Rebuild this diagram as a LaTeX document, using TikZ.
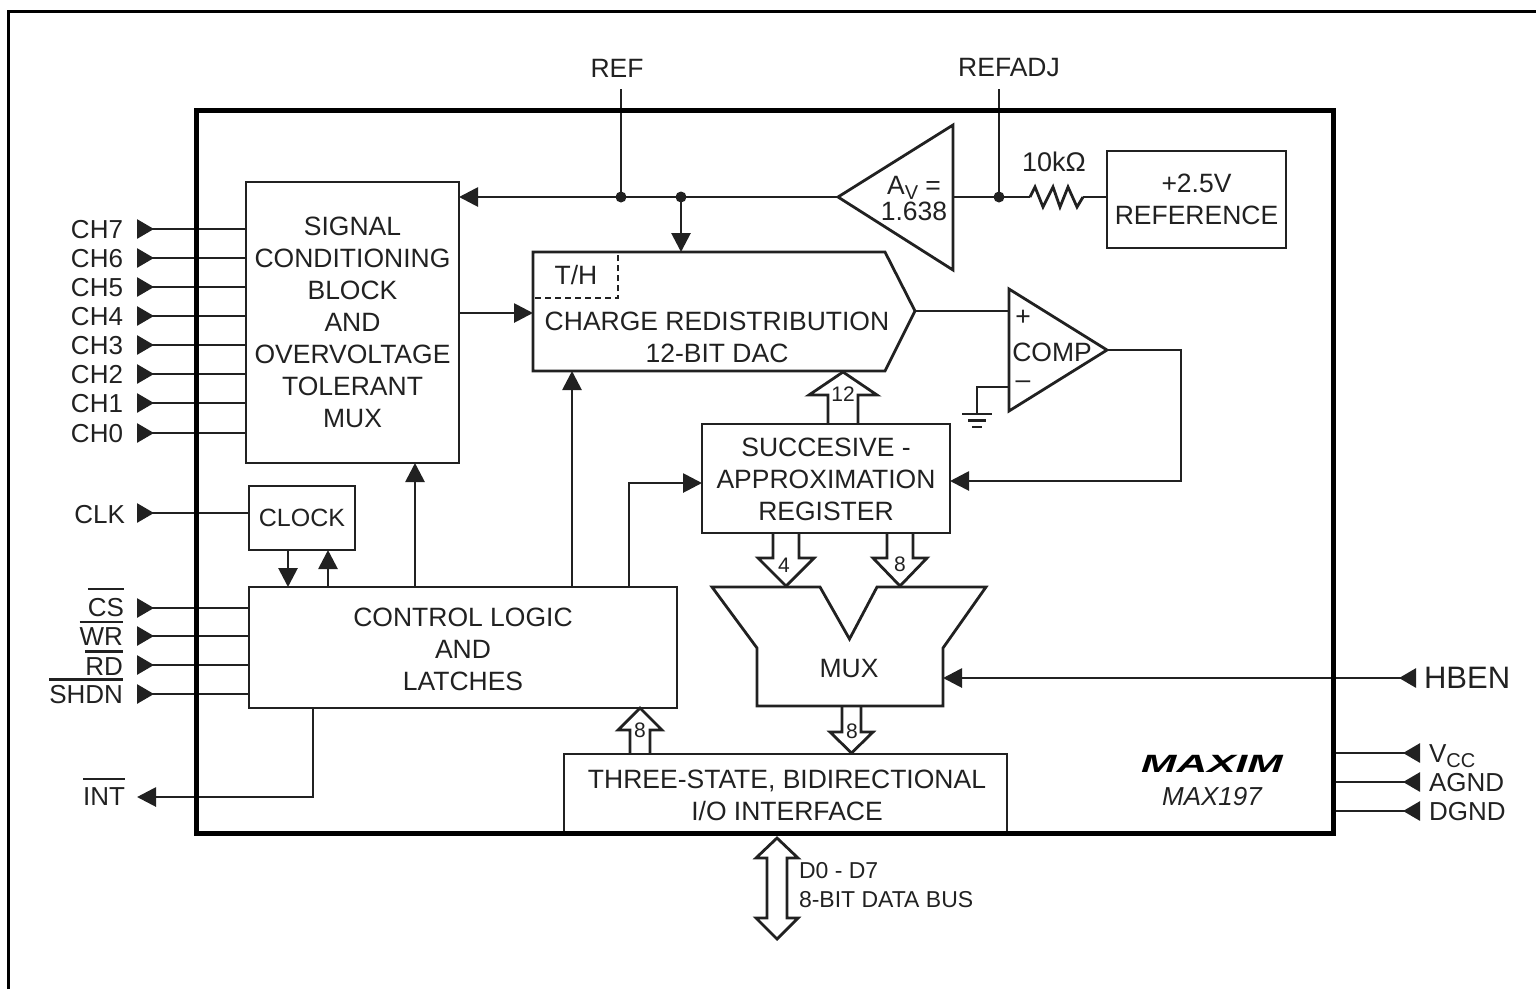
\documentclass[tikz,border=0pt]{standalone}
\usepackage{fontspec}
\setmainfont{Liberation Sans}
\usetikzlibrary{arrows.meta,calc}
\definecolor{inkdark}{gray}{0.13}
\newcommand{\barred}[2][5pt]{\leavevmode\vbox{\hrule height 2.5pt \kern #1 \hbox{#2}}}
\newcommand{\lowtext}[1]{\raisebox{-5pt}[0pt][0pt]{\fontsize{20}{20}\selectfont #1}}
\newcommand{\hollowbus}[5]{%
    \coordinate (headbase) at ($(#2)!#5pt!(#1)$);
    \draw[busline] ([xshift=-#3pt]#1) -- ([xshift=-#3pt]headbase) -- ([xshift=-#4pt]headbase)
        -- (#2) -- ([xshift=#4pt]headbase) -- ([xshift=#3pt]headbase) -- ([xshift=#3pt]#1);
}
\tikzset{
    wire/.style={line width=2.8pt, draw=inkdark},
    towire/.style={wire, -{Triangle[length=19pt,width=19pt]}},
    pinwire/.style={wire, {Triangle[reversed,length=17pt,width=19pt]}-},
    pintowire/.style={wire, {Triangle[reversed,length=17pt,width=19pt]}-{Triangle[length=19pt,width=19pt]}},
    busline/.style={line width=2.8pt, draw=inkdark, line join=miter},
    chipblock/.style={draw=inkdark, line width=2.8pt, inner sep=0pt, outer sep=0pt, align=center,
        text=inkdark, font=\fontsize{26.5}{32}\selectfont},
    plaintext/.style={inner sep=0pt, outer sep=0pt, align=center, text=inkdark,
        font=\fontsize{26.5}{32}\selectfont},
    pintext/.style={plaintext, anchor=base east, font=\fontsize{26}{32}\selectfont},
    rightpintext/.style={plaintext, anchor=base west, font=\fontsize{26}{32}\selectfont},
    busnumber/.style={plaintext, font=\fontsize{21}{24}\selectfont},
}
\begin{document}
\begin{tikzpicture}[x=1pt,y=-1pt]
    \useasboundingbox (0,0) rectangle (1536,989);
    \draw[line width=3pt] (8,989) -- (8,11) -- (1536,11);

    % blocks
    \node[chipblock, minimum width=213pt, minimum height=281pt] (sigblock) at (352.5,322.5)
        {SIGNAL\\CONDITIONING\\BLOCK\\AND\\OVERVOLTAGE\\TOLERANT\\MUX};
    \node[chipblock, minimum width=106pt, minimum height=64pt, font=\fontsize{25}{30}\selectfont] (clockblock) at (302,518) {CLOCK};
    \node[chipblock, minimum width=428pt, minimum height=121pt] (ctrlblock) at (463,647.5) {};
    \node[plaintext] (ctrllabel) at (463,649) {CONTROL LOGIC\\AND\\LATCHES};
    \node[chipblock, minimum width=248pt, minimum height=109pt] (sarblock) at (826,478.5) {};
    \node[plaintext] (sarlabel) at (826,479.5) {SUCCESIVE -\\APPROXIMATION\\REGISTER};
    \node[chipblock, minimum width=179pt, minimum height=97pt] (refblock) at (1196.5,199.5)
        {+2.5V\\REFERENCE};
    \node[chipblock, minimum width=443pt, minimum height=79pt] (ioblock) at (785.5,793.5) {};
    \node[plaintext] (iolabel) at (787,795) {THREE-STATE, BIDIRECTIONAL\\I/O INTERFACE};

    % dac, mux, amp and comparator outlines
    \draw[busline] (533,252) -- (885,252) -- (915,311) -- (885,371) -- (533,371) -- cycle;
    \draw[wire, dashed, dash pattern=on 6pt off 4pt] (535,298) -- (618,298) -- (618,254);
    \node[plaintext] (thlabel) at (576,275) {T/H};
    \node[plaintext] (daclabel) at (717,337) {CHARGE REDISTRIBUTION\\12-BIT DAC};
    \draw[busline] (712,587) -- (820,587) -- (849.5,639) -- (877,587) -- (986,587) -- (943,648)
        -- (943,706) -- (757,706) -- (757,648) -- cycle;
    \node[plaintext] (muxlabel) at (849,668) {MUX};
    \draw[busline] (838,197) -- (953,125) -- (953,270) -- cycle;
    \node[plaintext] (amplabel) at (914,198.5) {A\lowtext{V} =\\[-6pt]1.638};
    \draw[busline] (1009,289) -- (1107,350) -- (1009,411) -- cycle;
    \node[plaintext] (complabel) at (1052,352) {COMP};
    \node[plaintext] (compplus) at (1023,318) {+};
    \node[plaintext] (compminus) at (1023,385) {–};

    % named points
    \coordinate (ampout) at (838,197);
    \coordinate (ampin) at (953,197);
    \coordinate (refjoin) at (621,197);
    \coordinate (dacjoin) at (681,197);
    \coordinate (adjjoin) at (999,197);
    \coordinate (dactop) at (681,252);
    \coordinate (dacwest) at (533,313);
    \coordinate (dacsouth) at (572,371);
    \coordinate (dactip) at (915,311);
    \coordinate (compplusin) at (1009,311);
    \coordinate (compminusin) at (1009,387);
    \coordinate (compout) at (1107,350);
    \coordinate (gndtop) at (977,414);
    \coordinate (muxeast) at (943,678);
    \coordinate (resleft) at (1030,197);
    \coordinate (resright) at (1083,197);

    % reference chain
    \node[plaintext] (reflabel) at (617,68) {REF};
    \node[plaintext] (adjlabel) at (1009,68) {REFADJ};
    \node[plaintext, font=\fontsize{27}{30}\selectfont] (reslabel) at (1054,162) {10kΩ};
    \draw[wire] (621,89) -- (refjoin);
    \draw[wire] (999,89) -- (adjjoin);
    \draw[towire] (ampout) -- (sigblock.east |- ampout);
    \draw[towire] (dacjoin) -- (dactop);
    \fill[inkdark] (refjoin) circle (5.5pt);
    \fill[inkdark] (dacjoin) circle (5.5pt);
    \fill[inkdark] (adjjoin) circle (5.5pt);
    \draw[wire] (ampin) -- (resleft);
    \draw[wire] (resleft) -- (1035,187) -- (1043,207) -- (1053,187) -- (1060,207) -- (1068,187)
        -- (1077,207) -- (resright);
    \draw[wire] (resright) -- (resright -| refblock.west);

    % signal path
    \draw[towire] (sigblock.east |- dacwest) -- (dacwest);
    \draw[wire] (dactip) -- (compplusin);
    \draw[wire] (compminusin) -- (977,387) -- (gndtop);
    \draw[wire] (962,414) -- (992,414);
    \draw[wire] (968,420.5) -- (986,420.5);
    \draw[wire] (972,427) -- (982,427);
    \draw[towire] (compout) -- (1181,350) -- (1181,481) -- (sarblock.east |- 0,481);
    \draw[towire] (415,0 |- ctrlblock.north) -- (415,0 |- sigblock.south);
    \draw[towire] (572,0 |- ctrlblock.north) -- (dacsouth);
    \draw[towire] (629,0 |- ctrlblock.north) -- (629,483) -- (sarblock.west |- 0,483);
    \draw[towire] (288,0 |- clockblock.south) -- (288,0 |- ctrlblock.north);
    \draw[towire] (328,0 |- ctrlblock.north) -- (328,0 |- clockblock.south);

    % buses
    \coordinate (bus12from) at (843,424);
    \coordinate (bus12to) at (843,372);
    \hollowbus{bus12from}{bus12to}{15}{34}{23}
    \node[busnumber] (bus12num) at (843,394) {12};
    \coordinate (bus4from) at (786,533);
    \coordinate (bus4to) at (786,586);
    \hollowbus{bus4from}{bus4to}{13}{28}{28}
    \node[busnumber] (bus4num) at (784,565) {4};
    \coordinate (bus8from) at (900,533);
    \coordinate (bus8to) at (900,586);
    \hollowbus{bus8from}{bus8to}{13}{27}{28}
    \node[busnumber] (bus8num) at (900,564) {8};
    \coordinate (busmuxfrom) at (851.5,706);
    \coordinate (busmuxto) at (851.5,753);
    \hollowbus{busmuxfrom}{busmuxto}{9.5}{21.5}{21}
    \node[busnumber] (busmuxnum) at (852,731) {8};
    \coordinate (busiofrom) at (640,754);
    \coordinate (busioto) at (640,708);
    \hollowbus{busiofrom}{busioto}{10}{22}{22}
    \node[busnumber] (busionum) at (640,730) {8};
    \coordinate (busdatatop) at (777,838);
    \coordinate (busdatabot) at (777,939);
    \coordinate (busdataup) at (777,858);
    \coordinate (busdatadown) at (777,918);
    \draw[busline] ([xshift=-10pt]busdataup) -- ([xshift=-21pt]busdataup) -- (busdatatop)
        -- ([xshift=21pt]busdataup) -- ([xshift=10pt]busdataup) -- ([xshift=10pt]busdatadown)
        -- ([xshift=21pt]busdatadown) -- (busdatabot) -- ([xshift=-21pt]busdatadown)
        -- ([xshift=-10pt]busdatadown) -- cycle;
    \node[plaintext, anchor=west, align=left, font=\fontsize{23}{29}\selectfont] (buslabel) at (799,885)
        {D0 - D7\\8-BIT DATA BUS};

    % left pins
    \node[pintext] (ch7) at (123,238) {CH7};
    \node[pintext] (ch6) at (123,267) {CH6};
    \node[pintext] (ch5) at (123,296) {CH5};
    \node[pintext] (ch4) at (123,325) {CH4};
    \node[pintext] (ch3) at (123,354) {CH3};
    \node[pintext] (ch2) at (123,383) {CH2};
    \node[pintext] (ch1) at (123,412) {CH1};
    \node[pintext] (ch0) at (123,442) {CH0};
    \node[pintext] (clklabel) at (125,523) {CLK};
    \node[pintext] (cslabel) at (124,616) {\barred[7.75pt]{CS}};
    \node[pintext] (wrlabel) at (123,645) {\barred[3.75pt]{WR}};
    \node[pintext] (rdlabel) at (123,675) {\barred[4.5pt]{RD}};
    \node[pintext] (shdnlabel) at (123,703) {\barred[4.25pt]{SHDN}};
    \node[pintext] (intlabel) at (125,805) {\barred[6.75pt]{INT}};
    \coordinate (ch7pin) at (137,229);
    \coordinate (ch6pin) at (137,258);
    \coordinate (ch5pin) at (137,287);
    \coordinate (ch4pin) at (137,316);
    \coordinate (ch3pin) at (137,345);
    \coordinate (ch2pin) at (137,374);
    \coordinate (ch1pin) at (137,403);
    \coordinate (ch0pin) at (137,433);
    \coordinate (clkpin) at (137,513);
    \coordinate (cspin) at (137,608);
    \coordinate (wrpin) at (137,636);
    \coordinate (rdpin) at (137,665);
    \coordinate (shdnpin) at (137,694);
    \coordinate (intpin) at (137,797);
    \draw[pinwire] (ch7pin) -- (ch7pin -| sigblock.west);
    \draw[pinwire] (ch6pin) -- (ch6pin -| sigblock.west);
    \draw[pinwire] (ch5pin) -- (ch5pin -| sigblock.west);
    \draw[pinwire] (ch4pin) -- (ch4pin -| sigblock.west);
    \draw[pinwire] (ch3pin) -- (ch3pin -| sigblock.west);
    \draw[pinwire] (ch2pin) -- (ch2pin -| sigblock.west);
    \draw[pinwire] (ch1pin) -- (ch1pin -| sigblock.west);
    \draw[pinwire] (ch0pin) -- (ch0pin -| sigblock.west);
    \draw[pinwire] (clkpin) -- (clkpin -| clockblock.west);
    \draw[pinwire] (cspin) -- (cspin -| ctrlblock.west);
    \draw[pinwire] (wrpin) -- (wrpin -| ctrlblock.west);
    \draw[pinwire] (rdpin) -- (rdpin -| ctrlblock.west);
    \draw[pinwire] (shdnpin) -- (shdnpin -| ctrlblock.west);
    \draw[towire] (313,0 |- ctrlblock.south) -- (313,797) -- (intpin);

    % right pins
    \node[rightpintext, font=\fontsize{31}{32}\selectfont] (hbenlabel) at (1424,688) {HBEN};
    \node[rightpintext] (vcclabel) at (1429,762) {V\lowtext{CC}};
    \node[rightpintext] (agndlabel) at (1429,791) {AGND};
    \node[rightpintext] (dgndlabel) at (1429,820) {DGND};
    \coordinate (hbenpin) at (1416,678);
    \coordinate (vccpin) at (1420,753);
    \coordinate (agndpin) at (1420,782);
    \coordinate (dgndpin) at (1420,811);
    \coordinate (vccedge) at (1333,753);
    \coordinate (agndedge) at (1333,782);
    \coordinate (dgndedge) at (1333,811);
    \draw[pintowire] (hbenpin) -- (muxeast);
    \draw[pinwire] (vccpin) -- (vccedge);
    \draw[pinwire] (agndpin) -- (agndedge);
    \draw[pinwire] (dgndpin) -- (dgndedge);

    % logo
    \node[plaintext, font=\fontsize{25}{30}\bfseries\itshape\selectfont, xscale=1.7, text=black] (maximlogo) at (1212,764) {MAXIM};
    \node[plaintext, font=\fontsize{26}{30}\itshape\selectfont] (partlabel) at (1212,797) {MAX197};

    % chip edge
    \draw[line width=5pt] (196,110) rectangle (1333,833);
\end{tikzpicture}
\end{document}
